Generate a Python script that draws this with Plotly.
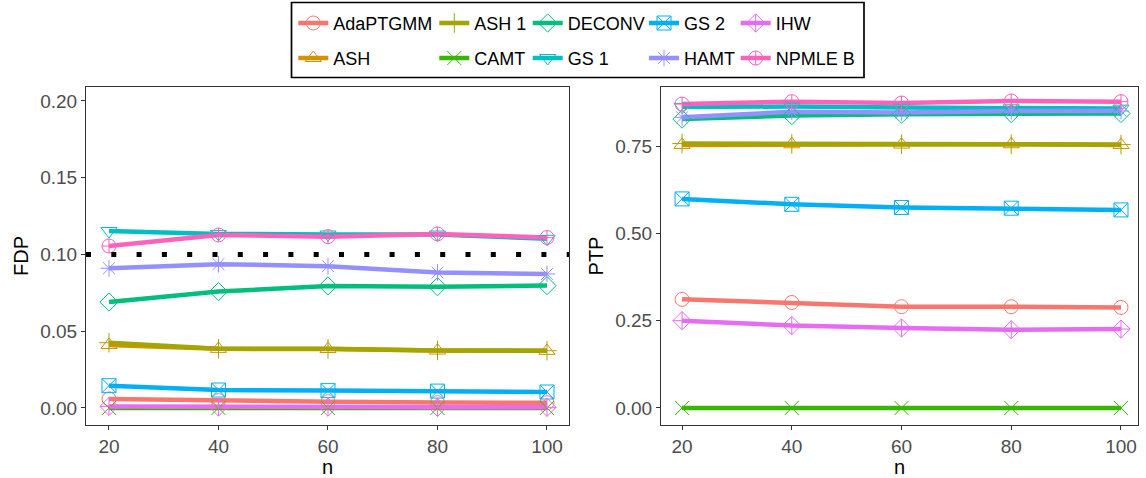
import plotly.graph_objects as go

# ---------------- data ----------------
n_values = [20, 40, 60, 80, 100]

methods = ["AdaPTGMM", "ASH", "ASH 1", "CAMT", "DECONV",
           "GS 1", "GS 2", "HAMT", "IHW", "NPMLE B"]

fdp_adaptgmm = [0.0059, 0.0048, 0.0041, 0.0035, 0.0034]
fdp_ash = [0.0410, 0.0385, 0.0384, 0.0374, 0.0372]
fdp_ash1 = [0.0425, 0.0386, 0.0385, 0.0375, 0.0373]
fdp_camt = [0.0000, 0.0000, 0.0000, 0.0000, 0.0000]
fdp_deconv = [0.0690, 0.0758, 0.0795, 0.0790, 0.0797]
fdp_gs1 = [0.1153, 0.1134, 0.1130, 0.1130, 0.1102]
fdp_gs2 = [0.0145, 0.0117, 0.0113, 0.0110, 0.0104]
fdp_hamt = [0.0910, 0.0937, 0.0924, 0.0882, 0.0873]
fdp_ihw = [0.0010, 0.0006, 0.0005, 0.0004, 0.0004]
fdp_npmleb = [0.1055, 0.1127, 0.1116, 0.1134, 0.1110]

ptp_adaptgmm = [0.311, 0.302, 0.290, 0.290, 0.288]
ptp_ash = [0.753, 0.755, 0.754, 0.755, 0.753]
ptp_ash1 = [0.757, 0.756, 0.755, 0.755, 0.754]
ptp_camt = [0.000, 0.000, 0.000, 0.000, 0.000]
ptp_deconv = [0.827, 0.837, 0.841, 0.843, 0.843]
ptp_gs1 = [0.862, 0.863, 0.860, 0.858, 0.857]
ptp_gs2 = [0.5985, 0.583, 0.574, 0.572, 0.567]
ptp_hamt = [0.832, 0.848, 0.846, 0.850, 0.850]
ptp_ihw = [0.250, 0.236, 0.229, 0.224, 0.226]
ptp_npmleb = [0.870, 0.877, 0.873, 0.879, 0.877]

fdp_values = [fdp_adaptgmm, fdp_ash, fdp_ash1, fdp_camt, fdp_deconv,
              fdp_gs1, fdp_gs2, fdp_hamt, fdp_ihw, fdp_npmleb]
ptp_values = [ptp_adaptgmm, ptp_ash, ptp_ash1, ptp_camt, ptp_deconv,
              ptp_gs1, ptp_gs2, ptp_hamt, ptp_ihw, ptp_npmleb]

target_fdr = 0.10

fdp_ticks = [0.0, 0.05, 0.10, 0.15, 0.20]
ptp_ticks = [0.0, 0.25, 0.50, 0.75]

# ---------------- style ----------------
colors = ["#F8766D", "#D89000", "#A3A500", "#39B600", "#00BF7D",
          "#00BFC4", "#00B0F6", "#9590FF", "#E76BF3", "#FF62BC"]
symbols = ["circle-open", "triangle-up-open", "cross-thin-open", "x-thin-open",
           "diamond-open", "triangle-down-open", "square-x-open", "asterisk-open",
           "diamond-cross-open", "circle-cross-open"]

W, H = 1146, 478
ML, MR, MT, MB = 86, 8, 87, 53
PW, PH = W - ML - MR, H - MT - MB

FONT = "Liberation Sans, Arial, Helvetica, sans-serif"
LINE_W = 4.5
MK_SIZE = 14
MK_LW = 1.0


def px_to_paper_x(px):
    return (px - ML) / PW


def px_to_paper_y(py):
    return (H - MB - py) / PH


def marker(i):
    return dict(symbol=symbols[i], size=MK_SIZE, color=colors[i],
                line=dict(color=colors[i], width=MK_LW))


fig = go.Figure()

legend_ids = ["legend"] + ["legend%d" % (i + 1) for i in range(1, len(methods))]

# lines
for i, m in enumerate(methods):
    for vals, xa, ya in [(fdp_values[i], "x", "y"), (ptp_values[i], "x2", "y2")]:
        fig.add_trace(go.Scatter(
            x=n_values, y=vals, xaxis=xa, yaxis=ya, name=m,
            mode="lines", line=dict(color=colors[i], width=LINE_W),
            showlegend=False, legendgroup=m, cliponaxis=False,
        ))

# points on top of all lines
for i, m in enumerate(methods):
    for vals, xa, ya in [(fdp_values[i], "x", "y"), (ptp_values[i], "x2", "y2")]:
        fig.add_trace(go.Scatter(
            x=n_values, y=vals, xaxis=xa, yaxis=ya, name=m,
            mode="markers", marker=marker(i),
            showlegend=False, legendgroup=m, cliponaxis=False,
        ))

# legend-only entries
for i, m in enumerate(methods):
    fig.add_trace(go.Scatter(
        x=[None], y=[None], xaxis="x", yaxis="y", name=m,
        mode="lines+markers", line=dict(color=colors[i], width=LINE_W),
        marker=marker(i), showlegend=True, legend=legend_ids[i], legendgroup=m,
    ))

# target FDR line
fig.add_shape(type="line", xref="x domain", yref="y", x0=0, x1=1,
              y0=target_fdr, y1=target_fdr,
              line=dict(color="black", width=5, dash="5px,20.3px"), layer="above")

# legends (one per entry, placed in a 5x2 column-major grid)
col_centers = [312.3, 453.3, 546.7, 663.0, 754.7]
row_centers = [23.3, 58.3]
layout_legends = {}
for i, m in enumerate(methods):
    c, r = i // 2, i % 2
    layout_legends[legend_ids[i]] = dict(
        x=px_to_paper_x(col_centers[c] - 19), y=px_to_paper_y(row_centers[r]),
        xanchor="left", yanchor="middle", orientation="v",
        bgcolor="rgba(0,0,0,0)", borderwidth=0,
        font=dict(family=FONT, size=18, color="black"),
    )

# legend frame
fig.add_shape(type="rect", xref="paper", yref="paper",
              x0=px_to_paper_x(291.5), x1=px_to_paper_x(864),
              y0=px_to_paper_y(77.5), y1=px_to_paper_y(2.5),
              line=dict(color="black", width=1.7), fillcolor="rgba(0,0,0,0)")

axis_common = dict(
    showgrid=False, zeroline=False, showline=True, mirror=True,
    linecolor="#333333", linewidth=1.1,
    ticks="outside", ticklen=4, tickwidth=1.1, tickcolor="#333333",
    tickfont=dict(family=FONT, size=19, color="#4D4D4D"),
    automargin=False,
)
title_font = dict(family=FONT, size=20, color="black")

x_left = (15.8, 104.02)
x_right = (16.16, 103.1)

fig.update_layout(
    width=W, height=H,
    margin=dict(l=ML, r=MR, t=MT, b=MB, autoexpand=False),
    paper_bgcolor="white", plot_bgcolor="white",
    font=dict(family=FONT),
    xaxis=dict(domain=[0, (569 - ML) / PW], range=list(x_left), tickvals=n_values,
               title=dict(text="n", font=title_font, standoff=6), anchor="y", **axis_common),
    yaxis=dict(domain=[0, 1], range=[-0.0111, 0.2091], tickvals=fdp_ticks, tickformat=".2f",
               title=dict(text="FDP", font=title_font, standoff=6), anchor="x", **axis_common),
    xaxis2=dict(domain=[(661 - ML) / PW, 1], range=list(x_right), tickvals=n_values,
                title=dict(text="n", font=title_font, standoff=6), anchor="y2", **axis_common),
    yaxis2=dict(domain=[0, 1], range=[-0.0487, 0.9189], tickvals=ptp_ticks, tickformat=".2f",
                title=dict(text="PTP", font=title_font, standoff=6), anchor="x2", **axis_common),
    **layout_legends,
)

fig.write_html("out.html")
